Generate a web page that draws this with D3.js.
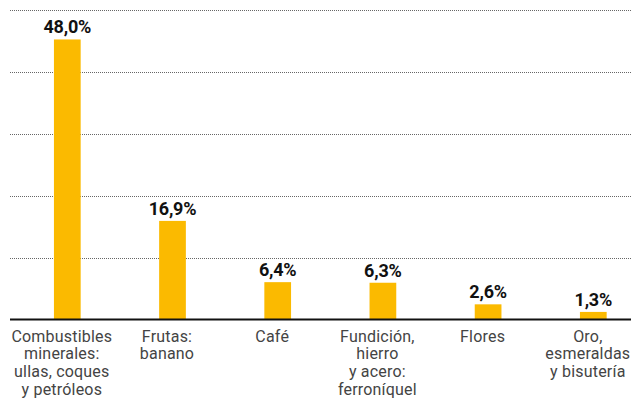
<!DOCTYPE html>
<html><head><meta charset="utf-8">
<script src="https://cdn.jsdelivr.net/npm/d3@7"></script>
<style>
html,body{margin:0;padding:0;background:#fff;}
svg{display:block;}
</style></head>
<body>
<svg id="chart" width="631" height="411"></svg>
<script>
const categories = [
  ["Combustibles","minerales:","ullas, coques","y petróleos"],
  ["Frutas:","banano"],
  ["Café"],
  ["Fundición,","hierro","y acero:","ferroníquel"],
  ["Flores"],
  ["Oro,","esmeraldas","y bisutería"]
];
const values = [48.0, 16.9, 6.4, 6.3, 2.6, 1.3];
const valueLabels = ["48,0%","16,9%","6,4%","6,3%","2,6%","1,3%"];
const gridCount = 5;

const svg = d3.select("#chart");
const W = 631, H = 411;
const axisY = 319.5, topY = 10;
const keys = categories.map((c,i)=>i);

const x = d3.scaleBand().domain(keys).range([14.7, 645.9]).paddingInner(0.746).paddingOuter(0.373);
const y = d3.scaleLinear().domain([0, 53.05]).range([axisY, topY]);

const gridVals = d3.range(1, gridCount+1).map(i => i * y.domain()[1] / gridCount);
svg.append("g").selectAll("line").data(gridVals).join("line")
  .attr("x1", 10).attr("x2", W)
  .attr("y1", d => Math.round(y(d)) + 0.5).attr("y2", d => Math.round(y(d)) + 0.5)
  .attr("stroke", "#666").attr("stroke-width", 1).attr("stroke-dasharray", "1,1");

svg.append("g").selectAll("rect").data(values).join("rect")
  .attr("x", (d,i) => x(i)).attr("width", x.bandwidth())
  .attr("y", d => y(d)).attr("height", d => axisY - y(d))
  .attr("fill", "#fbba00");

svg.append("line").attr("x1", 10).attr("x2", W).attr("y1", axisY).attr("y2", axisY)
  .attr("stroke", "#111").attr("stroke-width", 2);

svg.append("g").selectAll("text").data(values).join("text")
  .attr("x", (d,i) => x(i) + x.bandwidth()/2)
  .attr("y", d => y(d) - 6)
  .attr("text-anchor", "middle")
  .attr("font-family", "Roboto,sans-serif")
  .attr("font-weight", "bold").attr("font-size", 18).attr("fill", "#111")
  .attr("letter-spacing", -0.2)
  .text((d,i) => valueLabels[i]);

const lab = svg.append("g").selectAll("text").data(categories).join("text")
  .attr("text-anchor", "middle")
  .attr("font-family", "Roboto,sans-serif")
  .attr("font-size", 16).attr("fill", "#444").attr("letter-spacing", 0.2)
  .attr("transform", (d,i) => `translate(${x(i) + x.bandwidth()/2 - 5.5},${axisY + 22})`);
lab.selectAll("tspan").data(d => d).join("tspan")
  .attr("x", 0).attr("y", (d,j) => j * 17.8).text(d => d);
</script>
</body></html>
